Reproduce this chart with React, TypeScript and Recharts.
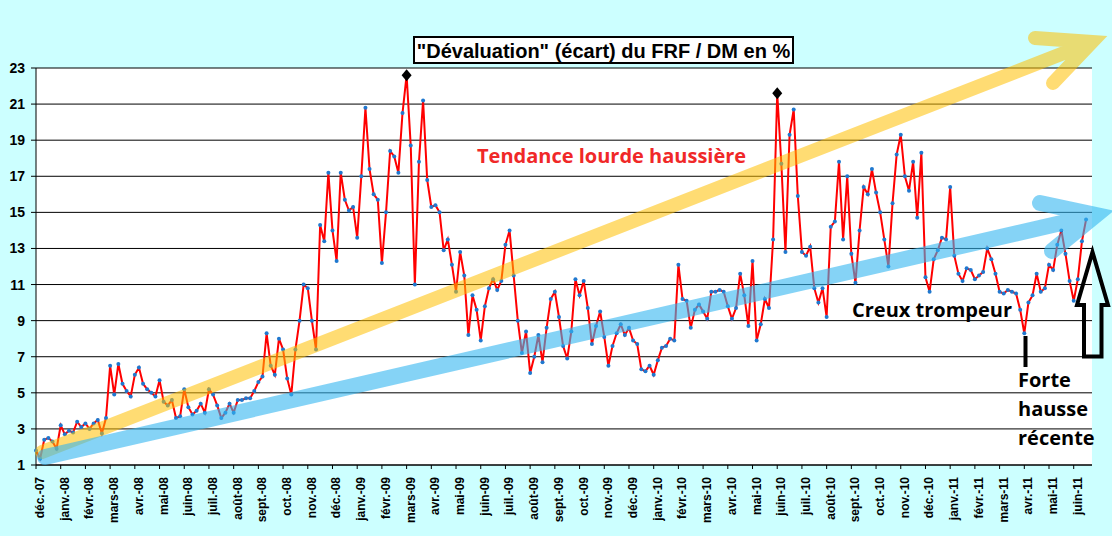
import { LineChart, Line, XAxis, YAxis, CartesianGrid } from 'recharts'

const samplesPerMonth = 6

const monthLabels = [
  'déc.-07', 'janv.-08', 'févr.-08', 'mars-08', 'avr.-08', 'mai-08', 'juin-08', 'juil.-08', 'août-08',
  'sept.-08', 'oct.-08', 'nov.-08', 'déc.-08', 'janv.-09', 'févr.-09', 'mars-09', 'avr.-09', 'mai-09',
  'juin-09', 'juil.-09', 'août-09', 'sept.-09', 'oct.-09', 'nov.-09', 'déc.-09', 'janv.-10', 'févr.-10',
  'mars-10', 'avr.-10', 'mai-10', 'juin-10', 'juil.-10', 'août-10', 'sept.-10', 'oct.-10', 'nov.-10',
  'déc.-10', 'janv.-11', 'févr.-11', 'mars-11', 'avr.-11', 'mai-11', 'juin-11',
]

const yTicks = [1, 3, 5, 7, 9, 11, 13, 15, 17, 19, 21, 23]

// écart FRF / DM en %, six relevés par mois
const ecart = [
  1.8, 1.35, 2.4, 2.5, 2.3, 1.9,
  3.2, 2.7, 2.9, 2.8, 3.4, 3.1,
  3.3, 3.0, 3.3, 3.5, 2.75, 3.6,
  6.5, 4.9, 6.6, 5.5, 5.1, 4.8,
  6.0, 6.4, 5.5, 5.2, 5.0, 4.8,
  5.7, 4.5, 4.3, 4.6, 3.6, 3.7,
  5.2, 4.2, 3.8, 4.0, 4.4, 3.9,
  5.2, 4.9, 4.3, 3.6, 3.9, 4.4,
  3.9, 4.6, 4.6, 4.7, 4.7, 5.1,
  5.6, 5.9, 8.3, 6.5, 6.0, 8.0,
  7.4, 5.8, 4.9, 7.4, 9.0, 11.0,
  10.8, 9.0, 7.4, 14.3, 13.4, 17.2,
  14.0, 12.3, 17.2, 15.7, 15.1, 15.3,
  13.6, 17.0, 20.8, 17.4, 16.0, 15.7,
  12.2, 15.0, 18.4, 18.1, 17.2, 20.5,
  22.6, 18.7, 11.0, 17.8, 21.2, 16.8,
  15.3, 15.4, 15.0, 12.9, 13.5, 12.1,
  10.6, 12.8, 11.5, 8.2, 10.4, 9.6,
  7.9, 9.8, 10.8, 11.3, 10.7, 11.2,
  13.2, 14.0, 11.5, 9.0, 7.2, 8.4,
  6.1, 7.0, 8.2, 6.7, 8.6, 10.2,
  10.6, 9.2, 7.6, 6.9, 8.4, 11.3,
  10.4, 11.2, 9.7, 7.7, 8.7, 9.5,
  8.1, 6.5, 7.6, 8.3, 8.8, 8.2,
  8.6, 7.9, 7.7, 6.3, 6.2, 6.5,
  6.0, 6.8, 7.5, 7.6, 8.0, 7.9,
  12.1, 10.2, 10.1, 8.6, 9.6, 9.9,
  9.5, 9.1, 10.6, 10.6, 10.7, 10.6,
  9.8, 9.1, 9.7, 11.6, 10.4, 8.7,
  12.3, 7.9, 8.8, 10.2, 9.7, 13.5,
  21.6, 17.7, 12.8, 19.3, 20.7, 15.9,
  12.8, 12.6, 13.1, 10.8, 10.0, 10.8,
  9.2, 14.2, 14.5, 17.8, 13.5, 17.0,
  12.7, 11.1, 14.0, 16.4, 16.0, 17.4,
  16.1, 15.0, 13.5, 12.0, 15.5, 18.2,
  19.3, 17.0, 16.2, 17.8, 14.7, 18.3,
  11.4, 10.6, 12.4, 12.9, 13.6, 13.5,
  16.4, 12.6, 11.6, 11.2, 11.9, 11.8,
  11.3, 11.5, 11.7, 13.0, 12.4, 11.6,
  10.6, 10.5, 10.7, 10.6, 10.5, 9.6,
  8.3, 10.0, 10.4, 11.6, 10.6, 10.8,
  12.1, 11.8, 13.2, 14.0, 12.7, 11.2,
  10.1, 11.3, 13.4, 14.6,
]

// points marqués d'un losange noir (maxima)
const peakIndices = [90, 180]

const data = ecart.map((v, i) => ({ t: i / samplesPerMonth, v, peak: peakIndices.includes(i) }))

const MonthTick = (props: any) => {
  const { x, y, payload } = props
  return (
    <text
      transform={`translate(${x + 4},${y}) rotate(-90)`}
      textAnchor="end"
      dominantBaseline="central"
      fontFamily="'Liberation Sans', Arial, sans-serif"
      fontWeight="bold"
      fontSize={12}
      fill="#000"
    >
      {monthLabels[payload.value]}
    </text>
  )
}

const renderDot = (props: any) => {
  const { cx, cy, payload, index } = props
  if (cx == null || cy == null) return <g key={`d${index}`} />
  if (payload.peak) {
    return (
      <polygon
        key={`d${index}`}
        points={`${cx},${cy - 6} ${cx + 5},${cy} ${cx},${cy + 6} ${cx - 5},${cy}`}
        fill="#000"
      />
    )
  }
  return <circle key={`d${index}`} cx={cx} cy={cy} r={2} fill="#1f78cf" />
}

const annotationFont = "'Open Sans', 'Noto Sans', sans-serif"

export default function App() {
  return (
    <div style={{ position: 'absolute', left: 0, top: 0, width: 1112, height: 536, background: '#ccffff' }}>
      <LineChart width={1112} height={536} data={data} margin={{ top: 68, right: 20, bottom: 0, left: 0 }}>
        <CartesianGrid vertical={false} stroke="#000" fill="#fff" />
        <XAxis
          dataKey="t"
          type="number"
          domain={[0, 42.74]}
          ticks={monthLabels.map((_, i) => i)}
          interval={0}
          height={71}
          tickSize={4}
          tickMargin={8}
          tick={<MonthTick />}
          axisLine={{ stroke: '#000' }}
          tickLine={{ stroke: '#000' }}
        />
        <YAxis
          domain={[1, 23]}
          ticks={yTicks}
          interval={0}
          width={36}
          tickSize={5}
          tickMargin={6}
          axisLine={{ stroke: '#000' }}
          tickLine={{ stroke: '#000' }}
          tick={{ fill: '#000', fontSize: 14, fontWeight: 'bold', fontFamily: "'Liberation Sans', Arial, sans-serif" }}
        />
        <YAxis
          yAxisId="frame"
          orientation="right"
          width={0}
          tick={false}
          tickLine={false}
          axisLine={{ stroke: '#808080' }}
        />
        <Line
          type="linear"
          dataKey="v"
          stroke="#ff0000"
          strokeWidth={2}
          dot={renderDot}
          activeDot={false}
          isAnimationActive={false}
        />
      </LineChart>
      <svg
        width={1112}
        height={536}
        style={{ position: 'absolute', left: 0, top: 0, pointerEvents: 'none' }}
      >
        <path
          d="M42 452 L1092 42 M1035 38 L1092 42 L1053 83"
          fill="none"
          stroke="#ffc000"
          strokeOpacity={0.55}
          strokeWidth={14}
          strokeLinecap="round"
          strokeLinejoin="miter"
        />
        <path
          d="M45 457 L1096 215 M1040 203 L1096 215 L1052 251"
          fill="none"
          stroke="#33b5f0"
          strokeOpacity={0.6}
          strokeWidth={16}
          strokeLinecap="round"
          strokeLinejoin="miter"
        />
        <rect x={414} y={37} width={379} height={26} fill="#fff" stroke="#000" strokeWidth={2} />
        <text
          x={603.5}
          y={58}
          textAnchor="middle"
          fontFamily="'Liberation Sans', Arial, sans-serif"
          fontWeight="bold"
          fontSize={20}
          fill="#000"
        >
          "Dévaluation" (écart) du FRF / DM en %
        </text>
        <text x={477} y={163} fontFamily={annotationFont} fontWeight="bold" fontSize={20} fill="#f02828">
          Tendance lourde haussière
        </text>
        <text x={852} y={317} fontFamily={annotationFont} fontWeight="bold" fontSize={20} fill="#000">
          Creux trompeur
        </text>
        <line x1={1025.5} y1={336} x2={1025.5} y2={367} stroke="#000" strokeWidth={4} />
        <text fontFamily={annotationFont} fontWeight="bold" fontSize={20} fill="#000">
          <tspan x={1018} y={387}>Forte</tspan>
          <tspan x={1018} y={416}>hausse</tspan>
          <tspan x={1018} y={445}>récente</tspan>
        </text>
        <polygon
          points="1092.5,252 1108,305 1101.5,305 1101.5,356.5 1084,356.5 1084,305 1077,305"
          fill="none"
          stroke="#000"
          strokeWidth={4}
          strokeLinejoin="miter"
        />
      </svg>
    </div>
  )
}
